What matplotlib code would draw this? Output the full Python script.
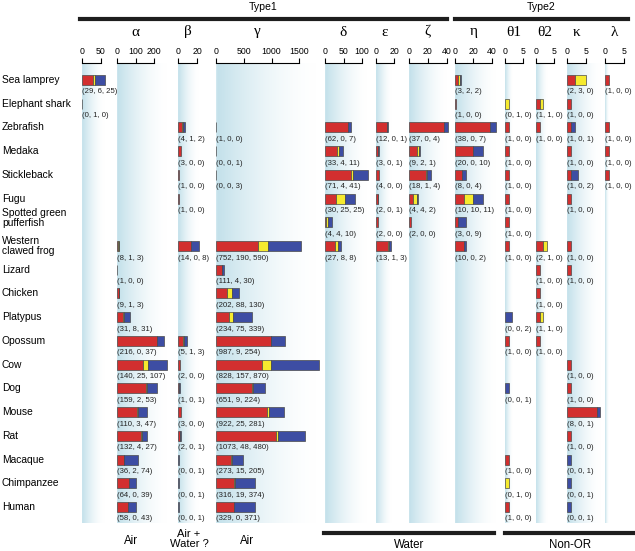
import matplotlib
matplotlib.use("Agg")
import matplotlib.pyplot as plt
import numpy as np
from matplotlib.colors import LinearSegmentedColormap
from matplotlib.lines import Line2D

plt.rcParams["font.family"] = ["Liberation Sans", "DejaVu Sans"]

species = [
    "Sea lamprey", "Elephant shark", "Zebrafish", "Medaka", "Stickleback", "Fugu",
    "Spotted green\npufferfish", "Western\nclawed frog", "Lizard", "Chicken", "Platypus",
    "Opossum", "Cow", "Dog", "Mouse", "Rat", "Macaque", "Chimpanzee", "Human",
]

# (intact, truncated, pseudogene) counts per species, one dict per OR group
lamprey_col = {"Sea lamprey": (29, 6, 25), "Elephant shark": (0, 1, 0)}
alpha = {
    "Western\nclawed frog": (8, 1, 3), "Lizard": (1, 0, 0), "Chicken": (9, 1, 3),
    "Platypus": (31, 8, 31), "Opossum": (216, 0, 37), "Cow": (140, 25, 107),
    "Dog": (159, 2, 53), "Mouse": (110, 3, 47), "Rat": (132, 4, 27),
    "Macaque": (36, 2, 74), "Chimpanzee": (64, 0, 39), "Human": (58, 0, 43),
}
beta = {
    "Zebrafish": (4, 1, 2), "Medaka": (3, 0, 0), "Stickleback": (1, 0, 0), "Fugu": (1, 0, 0),
    "Western\nclawed frog": (14, 0, 8), "Opossum": (5, 1, 3), "Cow": (2, 0, 0),
    "Dog": (1, 0, 1), "Mouse": (3, 0, 0), "Rat": (2, 0, 1), "Macaque": (0, 0, 1),
    "Chimpanzee": (0, 0, 1), "Human": (0, 0, 1),
}
gamma = {
    "Zebrafish": (1, 0, 0), "Medaka": (0, 0, 1), "Stickleback": (0, 0, 3),
    "Western\nclawed frog": (752, 190, 590), "Lizard": (111, 4, 30), "Chicken": (202, 88, 130),
    "Platypus": (234, 75, 339), "Opossum": (987, 9, 254), "Cow": (828, 157, 870),
    "Dog": (651, 9, 224), "Mouse": (922, 25, 281), "Rat": (1073, 48, 480),
    "Macaque": (273, 15, 205), "Chimpanzee": (316, 19, 374), "Human": (329, 0, 371),
}
delta = {
    "Zebrafish": (62, 0, 7), "Medaka": (33, 4, 11), "Stickleback": (71, 4, 41),
    "Fugu": (30, 25, 25), "Spotted green\npufferfish": (4, 4, 10), "Western\nclawed frog": (27, 8, 8),
}
epsilon = {
    "Zebrafish": (12, 0, 1), "Medaka": (3, 0, 1), "Stickleback": (4, 0, 0),
    "Fugu": (2, 0, 1), "Spotted green\npufferfish": (2, 0, 0), "Western\nclawed frog": (13, 1, 3),
}
zeta = {
    "Zebrafish": (37, 0, 4), "Medaka": (9, 2, 1), "Stickleback": (18, 1, 4),
    "Fugu": (4, 4, 2), "Spotted green\npufferfish": (2, 0, 0),
}
eta = {
    "Sea lamprey": (3, 2, 2), "Elephant shark": (1, 0, 0), "Zebrafish": (38, 0, 7),
    "Medaka": (20, 0, 10), "Stickleback": (8, 0, 4), "Fugu": (10, 10, 11),
    "Spotted green\npufferfish": (3, 0, 9), "Western\nclawed frog": (10, 0, 2),
}
theta1 = {
    "Elephant shark": (0, 1, 0), "Zebrafish": (1, 0, 0), "Medaka": (1, 0, 0),
    "Stickleback": (1, 0, 0), "Fugu": (1, 0, 0), "Spotted green\npufferfish": (1, 0, 0),
    "Western\nclawed frog": (1, 0, 0), "Platypus": (0, 0, 2), "Opossum": (1, 0, 0),
    "Dog": (0, 0, 1), "Macaque": (1, 0, 0), "Chimpanzee": (0, 1, 0), "Human": (1, 0, 0),
}
theta2 = {
    "Elephant shark": (1, 1, 0), "Zebrafish": (1, 0, 0), "Western\nclawed frog": (2, 1, 0),
    "Lizard": (1, 0, 0), "Chicken": (1, 0, 0), "Platypus": (1, 1, 0), "Opossum": (1, 0, 0),
}
kappa = {
    "Sea lamprey": (2, 3, 0), "Elephant shark": (1, 0, 0), "Zebrafish": (1, 0, 1),
    "Medaka": (1, 0, 0), "Stickleback": (1, 0, 2), "Fugu": (1, 0, 0),
    "Western\nclawed frog": (1, 0, 0), "Lizard": (1, 0, 0), "Cow": (1, 0, 0),
    "Dog": (1, 0, 0), "Mouse": (8, 0, 1), "Rat": (1, 0, 0), "Macaque": (0, 0, 1),
    "Chimpanzee": (0, 0, 1), "Human": (0, 0, 1),
}
lam = {
    "Sea lamprey": (1, 0, 0), "Zebrafish": (1, 0, 0), "Medaka": (1, 0, 0), "Stickleback": (1, 0, 0),
}

# column: header, data, ticks | layout: left edge px, px per unit
columns = [
    ("", lamprey_col, [0, 50], 82, 0.38),
    ("α", alpha, [0, 100, 200], 117, 0.185),
    ("β", beta, [0, 20], 178, 0.95),
    ("γ", gamma, [0, 500, 1000, 1500], 216, 0.0555),
    ("δ", delta, [0, 50, 100], 325, 0.37),
    ("ε", epsilon, [0, 20], 375.7, 0.925),
    ("ζ", zeta, [0, 20, 40], 409, 0.94),
    ("η", eta, [0, 20, 40], 455, 0.917),
    ("θ1", theta1, [0, 5], 505, 3.67),
    ("θ2", theta2, [0, 5], 536, 3.67),
    ("κ", kappa, [0, 5], 567.3, 3.67),
    ("λ", lam, [0, 5], 605.3, 3.67),
]

W, H = 635, 551
colors = ["#d22f2f", "#f6ea2e", "#3d4da3"]
row0, drow = 80.0, 23.72
ytop_px, ybot_px = 63, 523
y_top = (ytop_px - row0) / drow
y_bot = (ybot_px - row0) / drow

fig = plt.figure(figsize=(W / 100, H / 100), dpi=100)
grad_cmap = LinearSegmentedColormap.from_list("bg", ["#ffffff", "#c2e0ea"])


def fx(px):
    return px / W


def fy(py):
    return 1 - py / H


for header, data, ticks, x0, ppu in columns:
    maxtot = max(sum(v) for v in data.values())
    ext_units = max(ticks[-1], maxtot) * 1.02
    axw = ext_units * ppu
    ax = fig.add_axes([fx(x0), fy(ybot_px), axw / W, (ybot_px - ytop_px) / H])
    ax.set_xlim(0, ext_units)
    ax.set_ylim(y_bot, y_top)
    ax.patch.set_alpha(0)

    # fading blue background, as wide as the longest bar
    t = np.linspace(0, 1, 200)
    prof = (1 - t) ** 1.7
    prof[:4] *= np.linspace(0.7, 1, 4)
    ax.imshow(prof[None, :], cmap=grad_cmap, vmin=0, vmax=1, aspect="auto",
              extent=(0, maxtot, y_bot, y_top), zorder=0, interpolation="bilinear")

    for name, vals in data.items():
        i = species.index(name)
        left = 0
        for v, c in zip(vals, colors):
            if v > 0:
                ax.barh(i, v, left=left, height=0.42, color=c, edgecolor="#4a4a4a",
                        linewidth=0.5, clip_on=False, zorder=2)
            left += v
        ax.text(0, i + 12 / drow, "(%d, %d, %d)" % vals, fontsize=5.6,
                ha="left", va="center", color="#222222", zorder=3)

    ax.xaxis.tick_top()
    ax.set_xticks(ticks)
    ax.set_xticklabels([str(k) for k in ticks])
    ax.tick_params(axis="x", direction="out", length=3.5, width=0.8, labelsize=6.3, pad=1.5)
    ax.set_yticks([])
    for s in ["left", "right", "bottom"]:
        ax.spines[s].set_visible(False)
    ax.spines["top"].set_bounds(0, ticks[-1])
    ax.spines["top"].set_linewidth(0.8)

    if header:
        xc = x0 + ticks[-1] * ppu / 2
        fig.text(fx(xc), fy(32), header, ha="center", va="center", fontsize=11,
                 family=["Liberation Serif", "DejaVu Serif"])

for i, name in enumerate(species):
    shift = -4 if name.startswith("Spotted") else 0
    fig.text(fx(2), fy(row0 + drow * i + shift), name, ha="left", va="center",
             fontsize=7.4, linespacing=1.0)

# group brackets
for (xa, xb, yy, label, ylab) in [
    (80, 447, 19, "Type1", 7), (455, 628, 19, "Type2", 7),
    (324, 494, 533, "Water", 545), (505, 635, 533, "Non-OR", 545),
]:
    fig.add_artist(Line2D([fx(xa), fx(xb)], [fy(yy), fy(yy)], lw=3, color="#1e1e1e"))
    fig.text(fx((xa + xb) / 2), fy(ylab), label, ha="center", va="center",
             fontsize=7.6 if yy < 100 else 8.3)

fig.text(fx(131), fy(541), "Air", ha="center", va="center", fontsize=8.3)
fig.text(fx(189), fy(539), "Air +\nWater ?", ha="center", va="center", fontsize=8.0,
         linespacing=0.95)
fig.text(fx(247), fy(541), "Air", ha="center", va="center", fontsize=8.3)

fig.savefig("out.png", dpi=100)
